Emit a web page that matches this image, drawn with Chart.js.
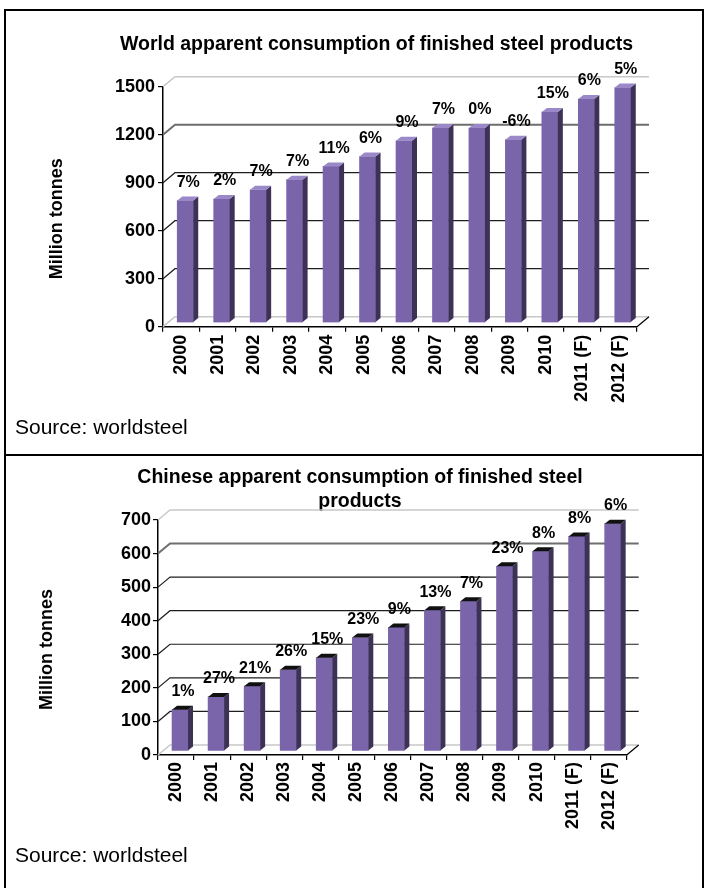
<!DOCTYPE html>
<html>
<head>
<meta charset="utf-8">
<script src="https://cdn.jsdelivr.net/npm/chart.js@4.4.1/dist/chart.umd.min.js"></script>
<style>
  body { margin: 0; background: #fff; width: 706px; height: 888px; position: relative; overflow: hidden;
         font-family: "Liberation Sans", Arial, sans-serif; }
  .frame { position: absolute; left: 4px; top: 9px; width: 696px; height: 890px; border: 2px solid #000; border-bottom: none; }
  .divider { position: absolute; left: 4px; top: 454px; width: 700px; height: 2px; background: #000; }
  .src { position: absolute; left: 15px; font-size: 21px; line-height: 24px; color: #000; }
  canvas { position: absolute; }
</style>
</head>
<body>
<div class="frame"></div>
<div class="divider"></div>
<canvas id="world" width="659" height="409" style="left:47px;top:12px"></canvas>
<canvas id="china" width="692" height="388" style="left:14px;top:457px"></canvas>
<div class="src" style="top:415px">Source: worldsteel</div>
<div class="src" style="top:843px">Source: worldsteel</div>
<script>
const years = ['2000', '2001', '2002', '2003', '2004', '2005', '2006', '2007', '2008', '2009', '2010', '2011 (F)', '2012 (F)'];

// million tonnes
const worldValues = [764, 773, 831, 894, 977, 1039, 1137, 1217, 1217, 1144, 1317, 1398, 1470];
const worldGrowth = ['7%', '2%', '7%', '7%', '11%', '6%', '9%', '7%', '0%', '-6%', '15%', '6%', '5%'];

const chinaValues = [123, 161, 193, 242, 278, 338, 368, 419, 446, 550, 595, 639, 677];
const chinaGrowth = ['1%', '27%', '21%', '26%', '15%', '23%', '9%', '13%', '7%', '23%', '8%', '8%', '6%'];

const FONT = '"Liberation Sans", Arial, sans-serif';
Chart.defaults.font.family = FONT;
Chart.defaults.color = '#000';

const FRONT = '#7a64aa';
const SIDE = '#3e3157';

// fake excel 3d: back wall grid, side/top faces of bars, labels
function fake3d(growth, topColor, yTitleX) {
  return {
    id: 'fake3d',
    beforeDatasetsDraw(chart) {
      const { ctx, chartArea: a, scales: { y } } = chart;
      const n = y.ticks.length;
      ctx.save();
      y.ticks.forEach((t, i) => {
        const py = y.getPixelForValue(t.value);
        if (i === 0 || i === n - 1) { ctx.strokeStyle = '#c8c8c8'; ctx.lineWidth = 1.5; }
        else if (i === n - 2) { ctx.strokeStyle = '#6e6e6e'; ctx.lineWidth = 2; }
        else { ctx.strokeStyle = '#1e1e1e'; ctx.lineWidth = 1.2; }
        ctx.beginPath();
        ctx.moveTo(a.left, py);
        ctx.lineTo(a.left + 12, py - 10);
        ctx.lineTo(a.right + 12, py - 10);
        ctx.stroke();
      });
      ctx.strokeStyle = '#000';
      ctx.lineWidth = 1.2;
      ctx.beginPath();
      ctx.moveTo(a.right, a.bottom);
      ctx.lineTo(a.right + 12, a.bottom - 10);
      ctx.stroke();
      ctx.restore();

      ctx.save();
      ctx.translate(4, -4);
    },
    afterDatasetsDraw(chart) {
      const ctx = chart.ctx;
      chart.getDatasetMeta(0).data.forEach((bar, i) => {
        const l = bar.x - bar.width / 2;
        const r = bar.x + bar.width / 2;
        ctx.fillStyle = SIDE;
        ctx.beginPath();
        ctx.moveTo(r, bar.y);
        ctx.lineTo(r + 5, bar.y - 4);
        ctx.lineTo(r + 5, bar.base - 4);
        ctx.lineTo(r, bar.base);
        ctx.closePath();
        ctx.fill();
        ctx.fillStyle = topColor;
        ctx.beginPath();
        ctx.moveTo(l, bar.y);
        ctx.lineTo(l + 5, bar.y - 4);
        ctx.lineTo(r + 5, bar.y - 4);
        ctx.lineTo(r, bar.y);
        ctx.closePath();
        ctx.fill();

        ctx.fillStyle = '#000';
        ctx.font = 'bold 16px ' + FONT;
        ctx.textAlign = 'center';
        ctx.textBaseline = 'middle';
        ctx.fillText(growth[i], bar.x + 3, bar.y - 18);
      });
      ctx.restore();
    },
    afterDraw(chart) {
      const { ctx, chartArea: a } = chart;
      ctx.save();
      ctx.translate(yTitleX, (a.top + a.bottom) / 2 + 12);
      ctx.rotate(-Math.PI / 2);
      ctx.font = 'bold 18px ' + FONT;
      ctx.fillStyle = '#000';
      ctx.textAlign = 'center';
      ctx.textBaseline = 'middle';
      ctx.fillText('Million tonnes', 0, 0);
      ctx.restore();
    }
  };
}

function makeChart(id, values, growth, opts) {
  return new Chart(document.getElementById(id), {
    type: 'bar',
    data: {
      labels: years,
      datasets: [{
        data: values,
        backgroundColor: FRONT,
        borderWidth: 0,
        barThickness: 16
      }]
    },
    options: {
      responsive: false,
      animation: false,
      devicePixelRatio: 1,
      // left == right padding keeps the full-width title centred where the original is
      layout: { padding: { left: opts.pad, right: opts.pad, top: 0, bottom: 0 } },
      plugins: {
        legend: { display: false },
        tooltip: { enabled: false },
        title: {
          display: true,
          text: opts.title,
          font: { size: 19.5, weight: 'bold', lineHeight: opts.titleLine },
          color: '#000',
          padding: opts.titlePad
        }
      },
      scales: {
        x: {
          grid: { offset: true, drawOnChartArea: false, drawTicks: true, tickLength: 5, color: '#000', lineWidth: 1.2 },
          border: { display: true, color: '#000', width: 1.5 },
          ticks: { minRotation: 90, maxRotation: 90, autoSkip: false, padding: opts.xPad,
                   font: { size: 18, weight: 'bold' } },
          afterFit(scale) { scale.height = opts.xHeight; }
        },
        y: {
          min: 0,
          max: opts.max,
          ticks: { stepSize: opts.step, padding: opts.yPad, font: { size: 18, weight: 'bold' },
                   callback: (v) => String(v) },
          grid: { drawOnChartArea: false, drawTicks: true, tickLength: 5, color: '#000', lineWidth: 1.2 },
          border: { display: true, color: '#000', width: 1.5 },
          afterFit(scale) { scale.width = opts.yWidth; }
        }
      }
    },
    plugins: [fake3d(growth, opts.topColor, opts.yTitleX)]
  });
}

makeChart('world', worldValues, worldGrowth, {
  title: 'World apparent consumption of finished steel products',
  titleLine: 1.2,
  titlePad: { top: 21.3, bottom: 30 },
  max: 1500, step: 300,
  pad: 69, yWidth: 47, xHeight: 94.3,
  xPad: 3, yPad: 3,
  topColor: '#9a88c8',
  yTitleX: 10
});

makeChart('china', chinaValues, chinaGrowth, {
  title: ['Chinese apparent consumption of finished steel', 'products'],
  titleLine: 1.23,
  titlePad: { top: 9, bottom: 6 },
  max: 700, step: 100,
  pad: 79.3, yWidth: 64.7, xHeight: 90,
  xPad: 2, yPad: 2,
  topColor: '#111111',
  yTitleX: 33
});
</script>
</body>
</html>
